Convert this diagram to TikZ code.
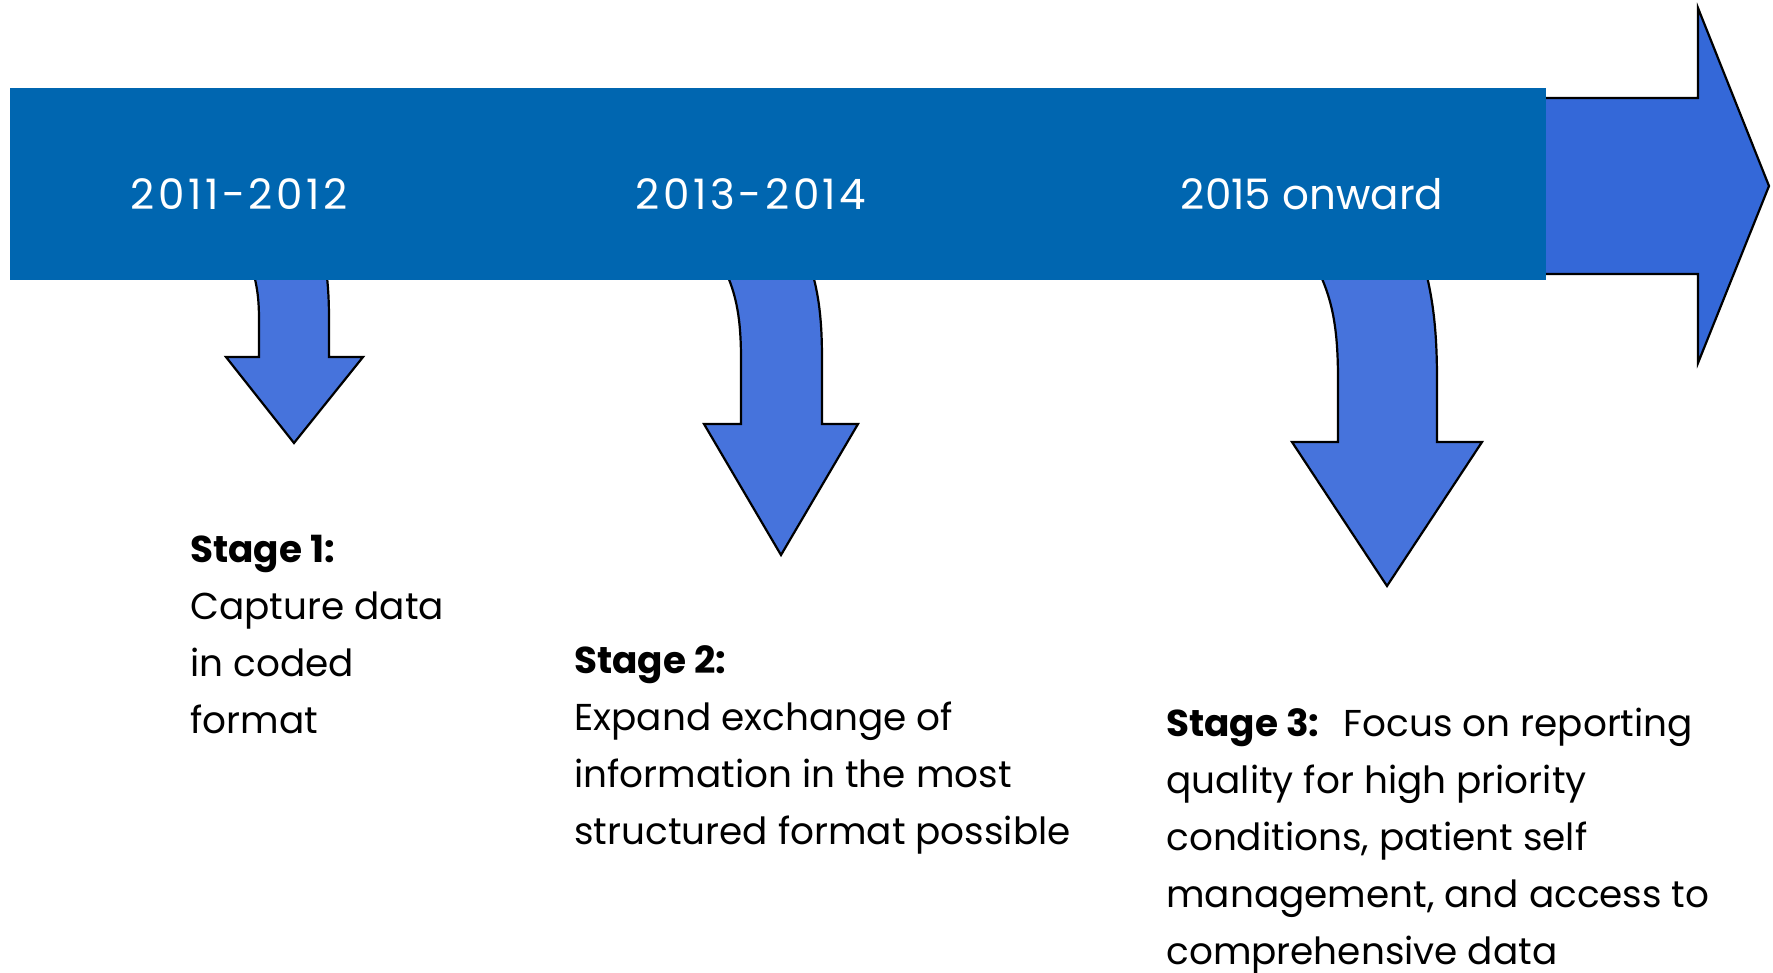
\documentclass[tikz,border=0pt]{standalone}
\usepackage{fontspec}
\setmainfont{Poppins}
\definecolor{bannerblue}{RGB}{0,102,176}
\definecolor{mainarrow}{RGB}{52,104,216}
\definecolor{droparrow}{RGB}{70,115,220}
\begin{document}
\begin{tikzpicture}[x=0.5pt,y=-0.5pt,
  shapeline/.style={draw=black,line width=1.1pt,line join=miter},
  yearlabel/.style={text=white,inner sep=0pt,anchor=base,font=\fontsize{21}{24}\selectfont},
  spacedyear/.style={yearlabel,font=\fontsize{21}{24}\selectfont\addfontfeature{LetterSpace=8.5}},
  stagetext/.style={text=black,inner sep=0pt,anchor=base west,font=\fontsize{18.7}{28.5}\selectfont}]
\useasboundingbox (0,0) rectangle (1773,973);

% main timeline arrow, its tail hidden under the banner
\draw[shapeline,fill=mainarrow] (1500,98) -- (1698,98) -- (1698,8) -- (1769,186)
  -- (1698,363) -- (1698,274) -- (1500,274) -- cycle;

% stage arrows dropping from the banner
\draw[shapeline,fill=droparrow] (252,268) .. controls (257,285) and (259,298) .. (259,320)
  -- (259,357) -- (226,357) -- (294,443) -- (363,357) -- (329,357) -- (329,320)
  .. controls (329,298) and (328,285) .. (326,268) -- cycle;
\draw[shapeline,fill=droparrow] (724,268) .. controls (737,295) and (741,320) .. (741,360)
  -- (741,424) -- (704,424) -- (781,555) -- (858,424) -- (822,424) -- (822,360)
  .. controls (822,320) and (819,295) .. (811,268) -- cycle;
\draw[shapeline,fill=droparrow] (1317,268) .. controls (1333,300) and (1338,330) .. (1338,380)
  -- (1338,442) -- (1292,442) -- (1387,586) -- (1482,442) -- (1437,442) -- (1437,380)
  .. controls (1437,330) and (1433,300) .. (1425,268) -- cycle;

% banner
\fill[bannerblue] (10,88) rectangle (1546,280);

% years
\node[spacedyear] (y1) at (239,210) {2011-2012};
\node[spacedyear] (y2) at (751,210) {2013-2014};
\node[yearlabel] (y3) at (1312,210) {2015 onward};

% stage descriptions
\node[stagetext] (s1) at (190,562) {\begin{tabular}[t]{@{}l@{}}
  \textbf{Stage 1:}\\ Capture data\\ in coded\\ format\end{tabular}};
\node[stagetext] (s2) at (574,673) {\begin{tabular}[t]{@{}l@{}}
  \textbf{Stage 2:}\\ Expand exchange of\\ information in the most\\ structured format possible\end{tabular}};
\node[stagetext] (s3) at (1166,736) {\begin{tabular}[t]{@{}l@{}}
  \textbf{Stage 3:}\hspace{0.65em}Focus on reporting\\ quality for high priority\\ conditions, patient self\\ management, and access to\\ comprehensive data\end{tabular}};
\end{tikzpicture}
\end{document}
